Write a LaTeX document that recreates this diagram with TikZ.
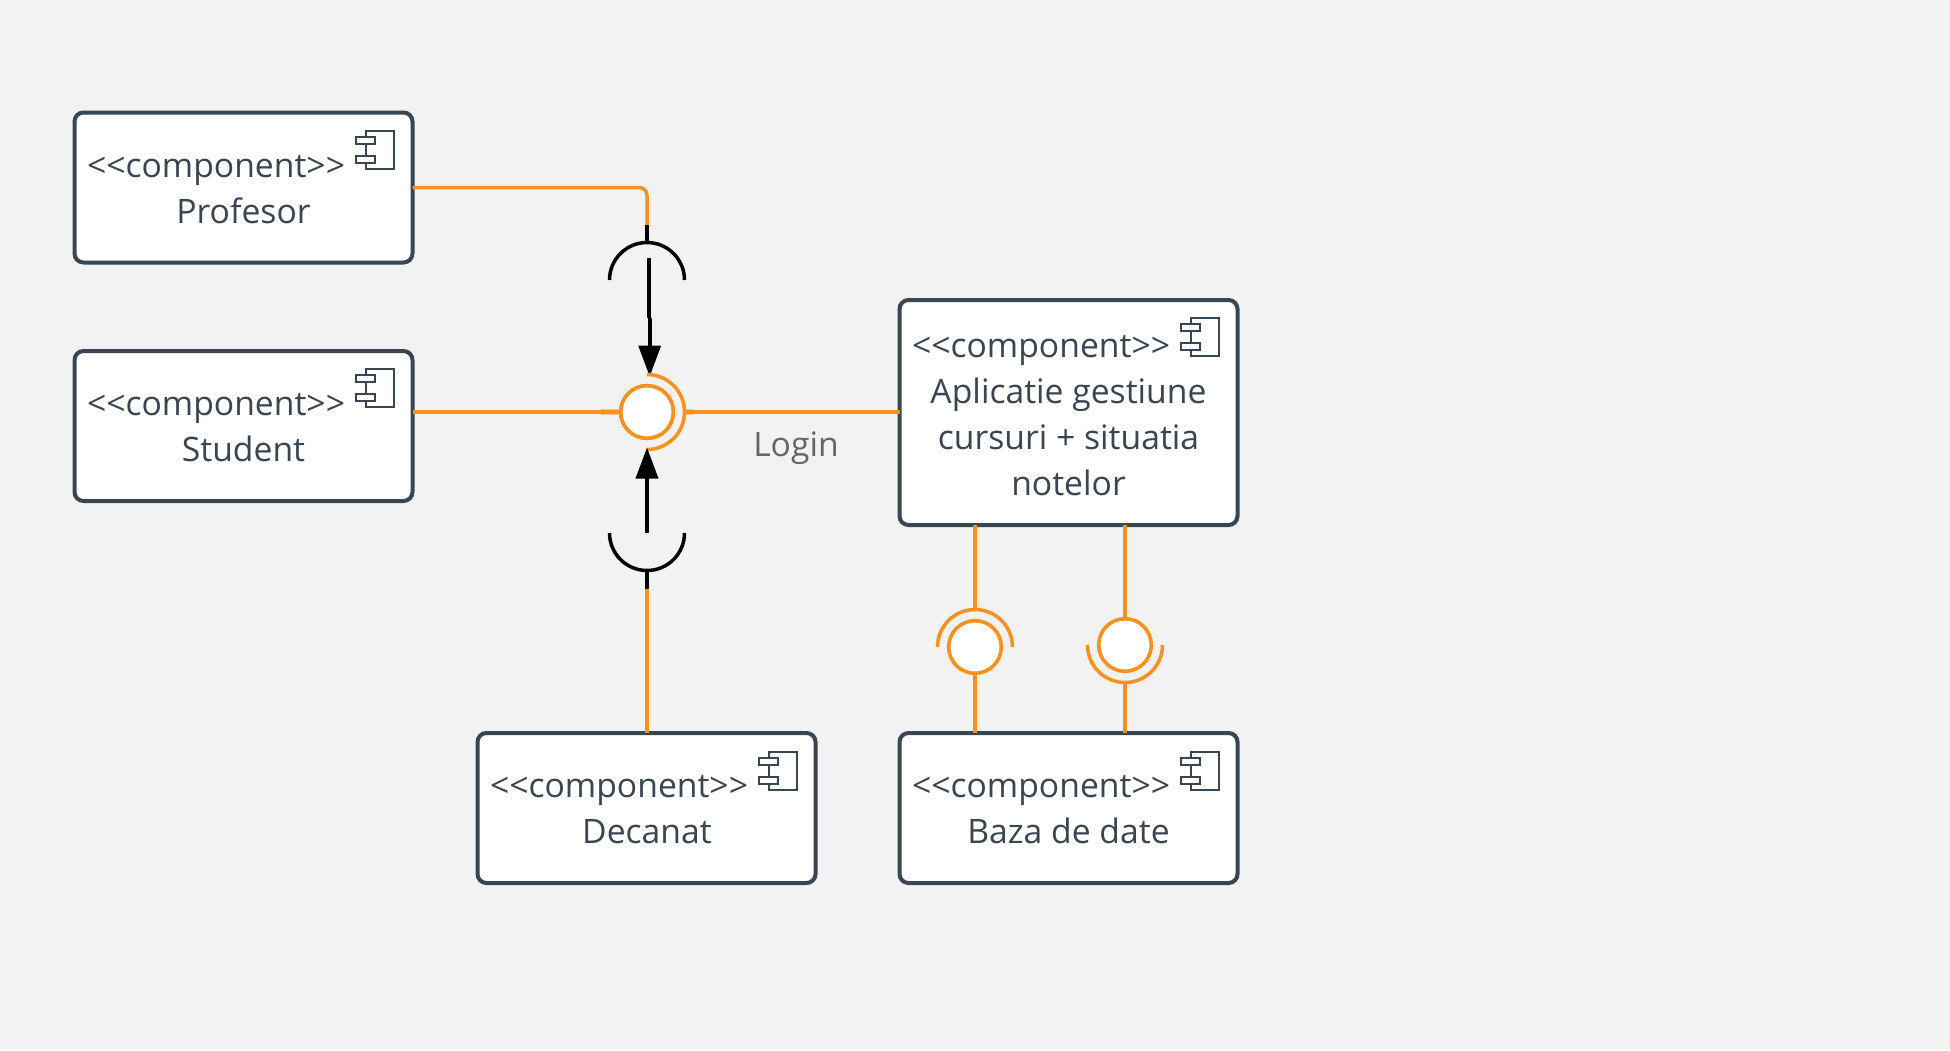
\documentclass[tikz,border=0pt]{standalone}
\usepackage{fontspec}
\setmainfont{Open Sans}
\usetikzlibrary{arrows.meta,calc}
\definecolor{bgc}{HTML}{F2F2F2}
\definecolor{ink}{HTML}{3A4552}
\definecolor{org}{HTML}{F9911E}
\definecolor{lbl}{HTML}{666666}
\newcommand{\ft}{\fontsize{33.7}{46}\selectfont}
\newcommand{\stereotxt}{<{}<component>{}>}
\tikzset{
  x=1pt,y=-1pt,
  comp/.style={draw=ink,fill=white,line width=4pt,rounded corners=9pt,outer sep=0pt,inner sep=0pt,minimum width=338pt},
  txt/.style={text=ink,font=\ft,inner sep=0pt,outer sep=0pt,anchor=base},
  stereo/.style={txt,anchor=base west},
  oline/.style={draw=org,line width=3.5pt},
  pale/.style={draw=org!45!bgc,line width=5.5pt},
  kline/.style={draw=black,line width=3.7pt},
  oarc/.style={draw=org,line width=3.5pt},
  karc/.style={draw=black,line width=3.5pt},
  ball/.style={circle,draw=org,fill=white,line width=3.6pt,minimum size=52.6pt,inner sep=0pt,outer sep=0pt},
  icon/.style={draw=ink,line width=2pt},
  arrowtip/.style={-{Triangle[length=31pt,width=22pt]}},
}
\newcommand{\compicon}[2]{%
  \draw[icon,fill=white] (#1+10,#2) rectangle (#1+38,#2+38);
  \draw[icon,fill=white] (#1,#2+6) rectangle (#1+19,#2+13);
  \draw[icon,fill=white] (#1,#2+25) rectangle (#1+19,#2+32);
}
\begin{document}
\begin{tikzpicture}
\useasboundingbox[fill=bgc] (0,0) rectangle (1950,1050);
% boxes
\node[comp,minimum height=150pt] (prof) at (243.5,187.5) {};
\node[comp,minimum height=150pt] (stud) at (243.5,426) {};
\node[comp,minimum height=150pt] (dec) at (646.5,808) {};
\node[comp,minimum height=225pt] (app) at (1068.5,412.5) {};
\node[comp,minimum height=150pt] (baza) at (1068.5,808) {};
% named points
\coordinate (s1c) at (647,280);
\coordinate (s1top) at (647,243);
\coordinate (s1k) at (647,225);
\coordinate (s2c) at (647,533);
\coordinate (s2bot) at (647,570);
\coordinate (s2k) at (647,589);
\coordinate (a1) at (649,258);
\coordinate (a2) at (649,318);
\coordinate (a3) at (649.7,318);
\coordinate (a4) at (649.7,376.5);
\coordinate (a5) at (647,447.5);
\node[ball] (bmain) at (647,412) {};
\node[ball] (bl) at (975,647) {};
\node[ball] (br) at (1125,645) {};
\coordinate (arcl) at (975,609.5);
\coordinate (arcr) at (1125,682.5);
% connectors
\draw[oline,rounded corners=8pt] (prof.east) -| (s1k);
\draw[kline] (s1k) -- (s1top);
\draw[karc] ($(s1c)+(37.5,0)$) arc[start angle=0,end angle=180,radius=37.5pt];
\draw[kline] (a1) -- (a2);
\draw[kline,arrowtip] (a3) -- (a4);
\draw[pale] ($(bmain.west)+(-20,0)$) -- (bmain.west);
\draw[pale] ($(bmain.east)+(11,0)$) -- ($(bmain.east)+(20,0)$);
\draw[oline] (bmain.west -| stud.east) -- (bmain.west);
\draw[oline] ($(bmain.east)+(11,0)$) -- (bmain.east -| app.west);
\draw[oline] ($(bmain.center)+(0,-37.5)$) arc[start angle=90,end angle=-90,radius=37.5pt];
\node[ball] at (bmain) {};
\draw[oline] (dec.north -| s2k) -- (s2k);
\draw[kline] (s2k) -- (s2bot);
\draw[karc] ($(s2c)+(37.5,0)$) arc[start angle=0,end angle=-180,radius=37.5pt];
\draw[kline,arrowtip] (s2c) -- (a5);
% lower interfaces
\draw[oline] (bl |- app.south) -- (arcl);
\draw[oarc] ($(bl.center)+(37.5,0)$) arc[start angle=0,end angle=180,radius=37.5pt];
\draw[oline] (bl.south) -- (bl |- baza.north);
\draw[oline] (br |- app.south) -- (br.north);
\draw[oarc] ($(br.center)+(37.5,0)$) arc[start angle=0,end angle=-180,radius=37.5pt];
\draw[oline] (arcr) -- (br |- baza.north);
% icons
\compicon{356}{131}
\compicon{356}{369}
\compicon{759}{752}
\compicon{1181}{318}
\compicon{1181}{752}
% text
\node[stereo] (t1) at (87,177) {\stereotxt};
\node[txt] (t1b) at (243.5,223) {Profesor};
\node[stereo] (t2) at (87,415.5) {\stereotxt};
\node[txt] (t2b) at (243.5,461.5) {Student};
\node[stereo] (t3) at (490,797) {\stereotxt};
\node[txt] (t3b) at (647,843) {Decanat};
\node[stereo] (t4) at (912,357) {\stereotxt};
\node[txt] (t4a) at (1068.5,403) {Aplicatie gestiune};
\node[txt] (t4b) at (1068.5,449) {cursuri + situatia};
\node[txt] (t4c) at (1068.5,495) {notelor};
\node[stereo] (t5) at (912,797) {\stereotxt};
\node[txt] (t5b) at (1068.5,843) {Baza de date};
\node[txt,text=lbl] (login) at (796,456) {Login};
\end{tikzpicture}
\end{document}
